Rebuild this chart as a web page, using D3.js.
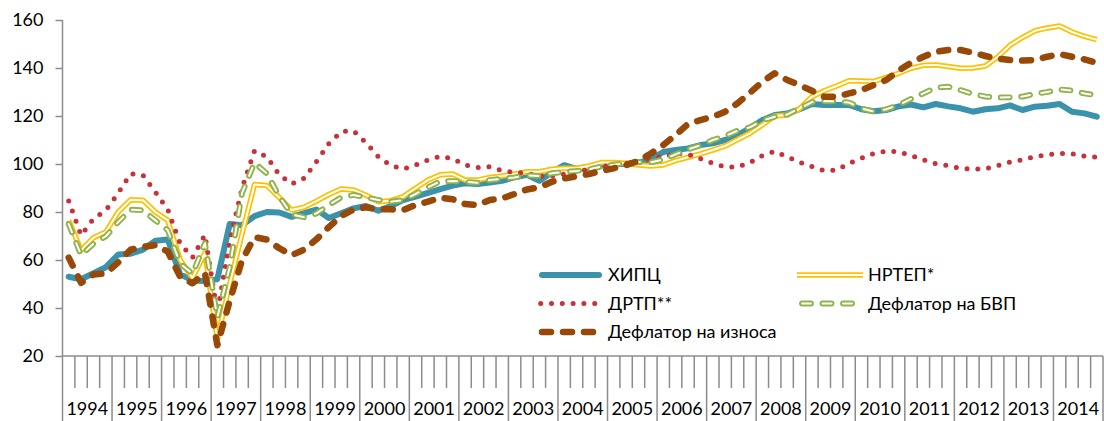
<!DOCTYPE html>
<html><head><meta charset="utf-8">
<script src="https://cdn.jsdelivr.net/npm/d3@7"></script>
<style>
body{margin:0;background:#fff}
svg{display:block}
text{font-family:Lato,'Open Sans',sans-serif;fill:#000}
</style>
</head><body>
<svg id="chart" width="1104" height="421"></svg>
<script>
// ---- data ----
const years = ['1994','1995','1996','1997','1998','1999','2000','2001','2002','2003','2004','2005','2006','2007','2008','2009','2010','2011','2012','2013','2014'];
const quarters = ['I','II','III','IV'];
const yTicks = [20,40,60,80,100,120,140,160];
const seriesNames = ['ХИПЦ','НРТЕП*','ДРТП**','Дефлатор на БВП','Дефлатор на износа'];

const hicp = [53,52,54.5,57,62.3,62.6,64.3,68,68.5,54,51.5,51.3,
 52,75,74.5,78.3,80,79.8,78,79.5,81,77.5,79.5,81.5,
 82.5,80.5,82.5,85,86.4,88,89.5,91,92,91.7,92.3,93,
 94.5,95.5,93,96.5,99.5,98,98.3,99.3,100,100,100.5,102,
 105,105.8,106.5,107.9,108.6,110,112,115,118.3,120.4,121,122.8,
 125,124.6,124.6,124.6,122.8,122,122.5,124,124.8,123.6,125,124,
 123.2,121.8,122.8,123.2,124.4,122.5,123.9,124.3,125,121.8,121.1,119.7];

const nrtep = [76.5,64,69.3,71.7,80,85.1,84.9,80,76.5,60,52.5,63,
 27,50,71,91.5,91,86,80.8,82,84.5,87.3,89.6,89.2,
 87,84.3,84.7,86.4,89.9,93.3,95.5,95.8,93.3,93.3,94.4,95,
 95.8,96.8,96.8,97.8,98.2,98.2,99.2,100.6,100.6,100.3,99.6,99.2,
 99.6,101.4,102.8,104.2,105.8,107.5,110.2,112.8,116.3,120,120.4,123,
 128,130.5,132.5,134.7,134.6,134.4,136.1,137.8,139.9,141.1,141.3,140.6,
 139.9,140,140.8,144.6,149.5,152.7,155.5,156.7,157.5,155,153.2,151.8];

const drtp = [84.6,70.3,77.2,80.7,87.9,96,95.3,88.3,81,66.8,61,70.5,
 38,68,90,105.5,103,95.5,91.7,94,101,108.5,113.5,113.8,
 108.9,103,99.4,97.9,99.6,101.7,103.2,102.2,99.6,98.5,98.9,97.2,
 96.5,96.1,95,95,95.8,96.8,97.8,98.9,99.6,100.3,100.7,102.4,
 103,104.4,104,102.2,100.3,98.8,98.8,100.6,103.5,105.3,103,100.7,
 98.9,97.2,97.5,100.3,102.4,104.4,105.3,105.1,103.5,101.7,100.1,99.3,
 98.1,97.9,98,99.3,100.8,101.8,103,103.9,104.4,104.3,103.3,102.8];

const gdpDeflator = [75,62,66.8,69.9,75.8,81,80.7,76.5,72.4,58.5,54.3,67,
 36,57,88,100.5,96,86.5,79,77.8,79.4,82.9,86.1,87.1,
 86.1,85,84.3,85,87.5,90.3,92.8,92.9,92.6,92.2,93.3,93.9,
 94.4,95.3,95,96.1,96.7,97.1,97.8,98.9,99.7,100.3,100.8,100.7,
 101.9,104,106.1,107.8,110,111.7,113.9,115.3,118.1,119.7,120.6,123.2,
 125.8,126.2,126.1,125.6,123.2,121.8,122.8,124.6,127.1,129.4,131.8,132.2,
 130.8,129.2,128.1,127.7,127.8,128.1,129.2,130,131.1,130.6,129.4,128.6];

const exportDeflator = [61,50.5,54,54.4,59,64.3,65.5,66.2,63.5,53,50.3,54.5,
 24.5,43,60,69.5,68.5,64.9,62,64.3,68.6,73.7,78.4,81,
 82,81.1,81.1,80.8,82.9,84.3,86,85.3,83.3,82.9,85,85.7,
 87.5,89.4,90.3,92.6,94,94.9,95.8,97.1,98.2,99.6,101.3,104.4,
 107.9,112.1,116.7,118.3,119.7,121.8,125.3,129.7,134.3,137.8,135,132.9,
 130.5,128,128.1,129.4,130.8,132.9,135,138.9,142.2,144.7,146.8,147.5,
 147.5,146.4,145,143.9,143.3,143.1,143.3,144.7,145.8,144.7,143.6,142.2];

const categories = years.flatMap(yr => quarters.map(q => yr + '-' + q));

// ---- styles ----
const styles = [
  [{stroke:'#3A93AB', w:6, cap:'round'}],
  [{stroke:'#FFC000', w:5.5, cap:'butt'}, {stroke:'#fff', w:2, cap:'butt'}],
  [{stroke:'#C8313A', w:5, dash:'0 10.8', cap:'round'}],
  [{stroke:'#8FB34A', w:5.8, dash:'9 11.5', cap:'round'}, {stroke:'#fff', w:2, dash:'9 11.5', cap:'round'}],
  [{stroke:'#984807', w:6.5, dash:'9 12', cap:'round'}]
];
const seriesData = [hicp, nrtep, drtp, gdpDeflator, exportDeflator];

const svg = d3.select('#chart');
const x = d3.scaleBand().domain(categories).range([62.5, 1103]);
const y = d3.scaleLinear().domain([20,160]).range([356,20]);
const axisColor = '#8C8C8C';

// y axis
const yAxis = svg.append('g').attr('transform','translate(62.5,0)')
  .call(d3.axisLeft(y).tickValues(yTicks).tickSize(7).tickPadding(12));
yAxis.selectAll('path,line').attr('stroke',axisColor).attr('stroke-width',1.5);
yAxis.select('.domain').attr('d','M0,20V356');
yAxis.selectAll('text').style('font-size','18px').style('font-family','Lato').attr('fill','#000');

// x axis
const xg = svg.append('g');
const bounds = d3.range(categories.length + 1);
const bx = k => k < categories.length ? x(categories[k]) : x.range()[1];
xg.append('line').attr('x1',62.5).attr('x2',1103).attr('y1',356).attr('y2',356)
  .attr('stroke',axisColor).attr('stroke-width',1.5);
xg.selectAll('line.tk').data(bounds).join('line').attr('class','tk')
  .attr('x1',k=>bx(k)).attr('x2',k=>bx(k))
  .attr('y1',356).attr('y2',k=> k%4===0 ? 421 : 388)
  .attr('stroke',axisColor).attr('stroke-width',1.5);
xg.selectAll('text.yr').data(years).join('text').attr('class','yr')
  .attr('x',yr => x(yr+'-I') + 2*x.bandwidth())
  .attr('y',415).attr('text-anchor','middle')
  .style('font-size','18px').text(d=>d);

// lines
const line = d3.line().x((d,i)=> x(categories[i]) + x.bandwidth()/2).y(d=>y(d));
function drawStyled(g, dAttr, st){
  st.forEach(s => {
    g.append('path').attr('d',dAttr).attr('fill','none')
      .attr('stroke',s.stroke).attr('stroke-width',s.w)
      .attr('stroke-linejoin','round').attr('stroke-linecap',s.cap||'butt')
      .attr('stroke-dasharray',s.dash||null);
  });
}
const lg = svg.append('g');
seriesData.forEach((data,i)=> drawStyled(lg.append('g'), line(data), styles[i]));

// legend
const legendPos = [
  {x1:542, x2:599, tx:608, y:275},
  {x1:797, x2:863, tx:868, y:275},
  {x1:540.7, x2:595, tx:608, y:303.5},
  {x1:802, x2:852, tx:868, y:303.5},
  {x1:542, x2:593, tx:608, y:332}
];
const leg = svg.append('g');
seriesNames.forEach((name,i)=>{
  const p = legendPos[i];
  const g = leg.append('g');
  drawStyled(g, `M${p.x1},${p.y}H${p.x2}`, styles[i]);
  g.append('text').attr('x',p.tx).attr('y',p.y).attr('dy','0.35em')
    .style('font-size','18px').text(name);
});
</script>
</body></html>
